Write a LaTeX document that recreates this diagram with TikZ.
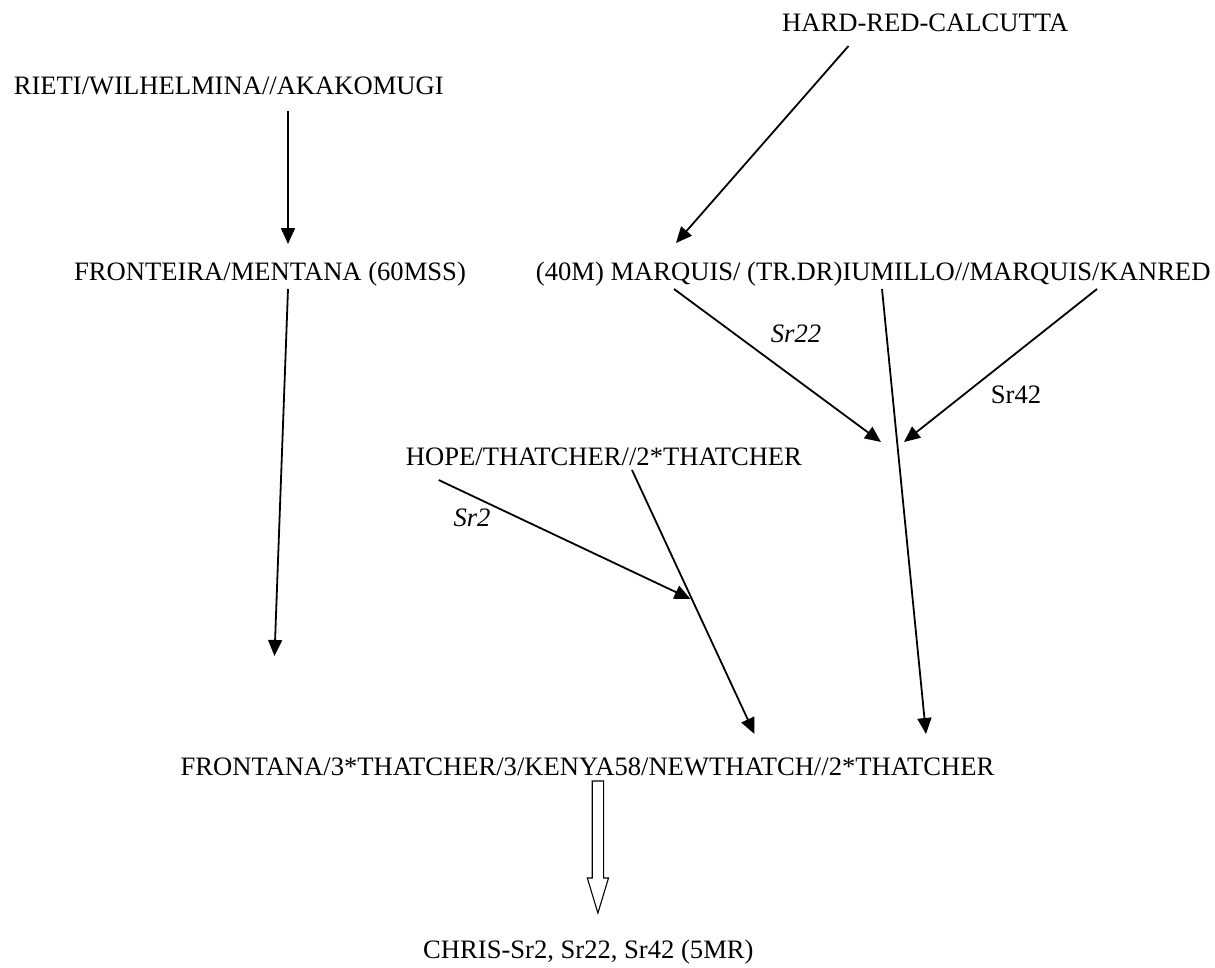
\documentclass[tikz,border=0pt]{standalone}
\usepackage{fontspec}
\setmainfont{Liberation Serif}
\usetikzlibrary{arrows.meta}
\begin{document}
\begin{tikzpicture}[x=1pt,y=-1pt,
  lbl/.style={inner sep=0pt, anchor=base west, font=\fontsize{26.6}{30}\selectfont},
  sr/.style={inner sep=0pt, anchor=base, font=\fontsize{26.6}{30}\selectfont\itshape},
  srup/.style={inner sep=0pt, anchor=base, font=\fontsize{26.6}{30}\selectfont},
  arr/.style={line width=1.8pt, -{Triangle[length=16pt,width=14pt]}}]
\useasboundingbox (0,0) rectangle (1215,967);
% texts
\node[lbl] (hrc) at (782,31.7) {HARD-RED-CALCUTTA};
\node[lbl] (rieti) at (13.6,94) {RIETI/WILHELMINA//AKAKOMUGI};
\node[lbl] (fronteira) at (74,280) {FRONTEIRA/MENTANA (60MSS)};
\node[lbl] (marquis) at (535.7,280) {(40M) MARQUIS/ (TR.DR)IUMILLO//MARQUIS/KANRED};
\node[lbl] (hope) at (405.7,465) {HOPE/THATCHER//2*THATCHER};
\node[lbl] (frontana) at (180.5,775) {FRONTANA/3*THATCHER/3/KENYA58/NEWTHATCH//2*THATCHER};
\node[lbl] (chris) at (423,958) {CHRIS-Sr2, Sr22, Sr42 (5MR)};
\node[sr] (sr22) at (796,342) {Sr22};
\node[srup] (sr42) at (1016,403) {Sr42};
\node[sr] (sr2) at (472,526) {Sr2};
% connector points
\coordinate (r1) at (288,111);
\coordinate (r2) at (288,244);
\coordinate (h1) at (848.5,46);
\coordinate (h2) at (676,243);
\coordinate (f1) at (288,289);
\coordinate (f2) at (274.5,656);
\coordinate (m1) at (674,289);
\coordinate (m2) at (881,442);
\coordinate (k1) at (1097,289);
\coordinate (k2) at (904,442);
\coordinate (i1) at (882,289);
\coordinate (i2) at (926,734);
\coordinate (p1) at (438.7,480);
\coordinate (p2) at (690.5,599);
\coordinate (t1) at (632,470);
\coordinate (t2) at (754.5,734);
\draw[arr] (r1) -- (r2);
\draw[arr] (h1) -- (h2);
\draw[arr] (f1) -- (f2);
\draw[arr] (m1) -- (m2);
\draw[arr] (k1) -- (k2);
\draw[arr] (i1) -- (i2);
\draw[arr] (p1) -- (p2);
\draw[arr] (t1) -- (t2);
% hollow arrow
\draw[line width=1.1pt, fill=white, line join=miter] (592.2,781) -- (603.6,781) -- (603.6,878) -- (608.5,878) -- (597.9,913) -- (587.3,878) -- (592.2,878) -- cycle;
\end{tikzpicture}
\end{document}
